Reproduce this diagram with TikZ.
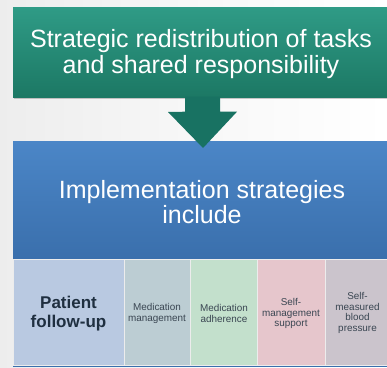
\documentclass[tikz,border=0pt]{standalone}
\usepackage{fontspec}
\setmainfont{Liberation Sans}
\usetikzlibrary{shadows,calc}
\definecolor{tealtop}{HTML}{2F9B86}
\definecolor{tealbot}{HTML}{1C7864}
\definecolor{arrowc}{HTML}{187262}
\definecolor{bluetop}{HTML}{4B86C7}
\definecolor{bluebot}{HTML}{3A6FAC}
\definecolor{cA}{HTML}{B9C9E1}
\definecolor{cB}{HTML}{BCCDD3}
\definecolor{cC}{HTML}{C3E0CC}
\definecolor{cD}{HTML}{E6C6CC}
\definecolor{cE}{HTML}{CBC4CC}
\definecolor{smalltext}{HTML}{3A4652}
\definecolor{bigtext}{HTML}{1F2F40}
\tikzset{
  topbox/.style={rectangle, minimum width=374pt, minimum height=90pt, inner sep=0pt,
    top color=tealtop, bottom color=tealbot,
    drop shadow={shadow xshift=0.5pt, shadow yshift=-2pt, opacity=0.35, fill=black!60}},
  bigwhite/.style={text=white, align=center, inner sep=0pt, font=\fontsize{25}{25.5}\selectfont},
  bluebox/.style={rectangle, minimum width=374pt, minimum height=118pt, inner sep=0pt,
    top color=bluetop, bottom color=bluebot},
  cell/.style={rectangle, anchor=north west, minimum height=106pt, inner sep=0pt,
    draw=white!85!gray, line width=0.6pt, align=center, text=smalltext},
  celltext/.style={align=center, inner sep=0pt, text=smalltext, font=\fontsize{9.9}{10.4}\selectfont},
}
\begin{document}
\begin{tikzpicture}[x=1pt,y=-1pt]
\useasboundingbox (0,0) rectangle (387,367);
\fill[left color=black!7, right color=white, middle color=black!3] (0,0) rectangle (387,367);
% top box
\node[topbox] (top) at (200,52) {};
\node[bigwhite] (toptext) at (201,54) {Strategic redistribution of tasks\\and shared responsibility};
% blue box
\node[bluebox, anchor=north west] (blue) at (13,141) {};
\node[bigwhite] (bluetext) at (202,202) {Implementation strategies\\include};
% bottom strip line
\fill[bluebot] (13,359) rectangle (387,367);
% cells
\node[cell, fill=cA, minimum width=111pt] (c1) at (13,259) {};
\node[cell, fill=cB, minimum width=66pt] (c2) at (124,259) {};
\node[cell, fill=cC, minimum width=67pt] (c3) at (190,259) {};
\node[cell, fill=cD, minimum width=68pt] (c4) at (257,259) {};
\node[cell, fill=cE, minimum width=62pt] (c5) at (325,259) {};
\node[align=center, inner sep=0pt, text=bigtext, font=\bfseries\fontsize{17}{19}\selectfont] (t1) at (68.5,313.5) {Patient\\follow-up};
\node[celltext] (t2) at (157,313.5) {Medication\\management};
\node[celltext] (t3) at (224,313.5) {Medication\\adherence};
\node[celltext] (t4) at (291,313.5) {Self-\\management\\support};
\node[celltext] (t5) at (357.5,313) {Self-\\measured\\blood\\pressure};
% arrow
\fill[arrowc] ($(top.south)+(-15,-0.5)$) -- ++(35,0) -- ++(0,15) -- ++(17,0)
  -- (203,148) -- (168,112) -- ($(top.south)+(-15,14.5)$) -- cycle;
\end{tikzpicture}
\end{document}
